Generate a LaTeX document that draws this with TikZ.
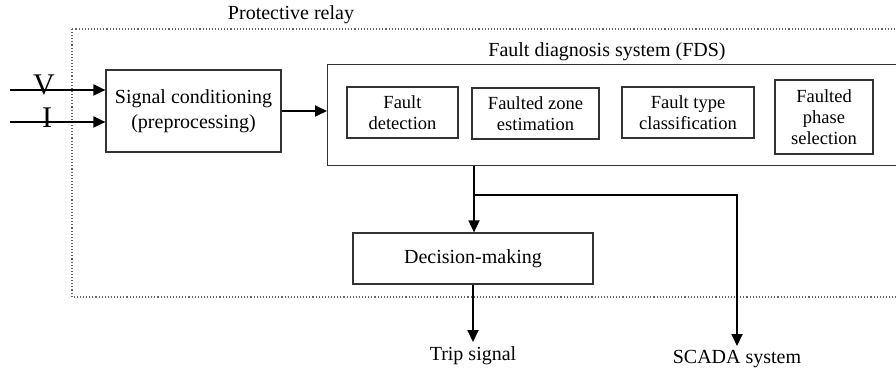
\documentclass[tikz,border=0pt]{standalone}
\usepackage{fontspec}
\setmainfont{Liberation Serif}
\usepackage{xcolor}
\usetikzlibrary{arrows.meta, calc}

\begin{document}
\begin{tikzpicture}[x=1pt, y=-1pt,
    blockbox/.style={draw=black!80, line width=1.2pt, align=center, font=\fontsize{20}{25}\selectfont},
    subbox/.style={draw=black!80, line width=1.2pt, align=center, font=\fontsize{18.5}{21}\selectfont},
    flow/.style={-{Triangle[length=12pt, width=11pt]}, line width=1.8pt},
    caption/.style={font=\fontsize{20}{24}\selectfont, inner sep=0pt}]
    \useasboundingbox (0,0) rectangle (896,374);
    \clip (0,0) rectangle (896,374);

    % Protective relay (dotted frame, open to the right)
    \draw[dotted, black!60, line width=1.1pt] (72,29) rectangle (930,297);
    \node[caption] (relaylbl) at (291,15) {Protective relay};

    % Signal conditioning
    \node[blockbox, minimum width=175pt, minimum height=82pt] (sigcond) at (193.5,111) {Signal conditioning\\(preprocessing)};

    % Inputs
    \coordinate (vin) at (10,90);
    \coordinate (iin) at (10,122);
    \draw[flow] (vin) -- (vin -| sigcond.west);
    \draw[flow] (iin) -- (iin -| sigcond.west);
    \node[caption, font=\fontsize{30}{30}\selectfont] (vlbl) at (44,85) {V};
    \node[caption, font=\fontsize{30}{30}\selectfont] (ilbl) at (47,118) {I};

    % Fault diagnosis system
    \node[draw=black!80, line width=1.2pt, anchor=north west, minimum width=620pt, minimum height=101pt] (fds) at (327,64) {};
    \node[caption] (fdslbl) at (607,52) {Fault diagnosis system (FDS)};
    \draw[flow] (sigcond.east) -- (sigcond.east -| fds.west);

    % FDS tasks
    \node[subbox, minimum width=111pt, minimum height=51pt] (detect) at (402.5,112.5) {Fault\\detection};
    \node[subbox, minimum width=127pt, minimum height=51pt] (zone) at (535.5,113.5) {Faulted zone\\estimation};
    \node[subbox, minimum width=132pt, minimum height=51pt] (ftype) at (688,112.5) {Fault type\\classification};
    \node[subbox, minimum width=98pt, minimum height=74pt] (phase) at (824,117) {Faulted\\phase\\selection};

    % Decision-making
    \node[blockbox, minimum width=240pt, minimum height=51pt] (decide) at (473,258.5) {Decision-making};

    % Outputs
    \node[caption, anchor=north] (trip) at (473,346) {Trip signal};
    \node[caption, anchor=north] (scada) at (737,350) {SCADA system};
    \coordinate (split) at (474,195);
    \draw[line width=1.8pt] (split |- fds.south) -- (split);
    \draw[flow] (split) -- (split |- decide.north);
    \draw[flow] (split) -| ($(scada.north)+(0,-4)$);
    \draw[flow] (decide.south -| trip) -- ($(trip.north)+(0,-4)$);
\end{tikzpicture}
\end{document}
